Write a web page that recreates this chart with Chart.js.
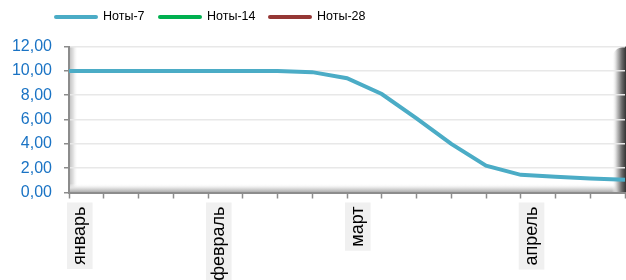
<!DOCTYPE html>
<html>
<head>
<meta charset="utf-8">
<script src="https://cdn.jsdelivr.net/npm/chart.js@4.4.0/dist/chart.umd.min.js"></script>
<style>
html,body{margin:0;padding:0;background:#fff;}
#wrap{width:626px;height:280px;position:relative;}
</style>
</head>
<body>
<div id="wrap"><canvas id="c" width="626" height="280"></canvas></div>
<script>
const categories = ['январь','','','','февраль','','','','март','','','','','апрель','','',''];
const seriesNames = ['Ноты-7','Ноты-14','Ноты-28'];
const seriesColors = ['#4bacc6','#00b050','#953735'];
const noty7 = [10,10,10,10,10,10,10,9.9,9.4,8.1,6.1,4.0,2.2,1.45,1.3,1.15,1.05];
const noty14 = [];
const noty28 = [];
const yTicks = [0,2,4,6,8,10,12];

const shading = {
  id:'shading',
  beforeDraw(chart){
    const {ctx, chartArea:a} = chart;
    ctx.save();
    // left wall
    let g = ctx.createLinearGradient(a.left,0,a.left+9,0);
    g.addColorStop(0,'#bdbdbd'); g.addColorStop(0.5,'#e4e4e4'); g.addColorStop(1,'rgba(255,255,255,0)');
    ctx.fillStyle = g; ctx.fillRect(a.left, a.top, 9, a.bottom-a.top);
    // floor
    g = ctx.createLinearGradient(0,a.bottom-9,0,a.bottom);
    g.addColorStop(0,'rgba(255,255,255,0)'); g.addColorStop(0.5,'#e2e2e2'); g.addColorStop(1,'#a8a8a8');
    ctx.fillStyle = g; ctx.fillRect(a.left, a.bottom-9, a.right-a.left, 9);
    // right edge
    g = ctx.createLinearGradient(a.right-13,0,a.right+1,0);
    g.addColorStop(0,'rgba(255,255,255,0)'); g.addColorStop(0.35,'#c8c8c8'); g.addColorStop(0.7,'#6a6a6a'); g.addColorStop(1,'#333');
    ctx.fillStyle = g;
    ctx.beginPath();
    ctx.moveTo(a.right-13, a.bottom);
    ctx.lineTo(a.right-13, a.top+10);
    ctx.quadraticCurveTo(a.right-10, a.top, a.right+1, a.top);
    ctx.lineTo(a.right+1, a.bottom);
    ctx.closePath(); ctx.fill();
    ctx.restore();
  }
};

const legendPlugin = {
  id:'customLegend',
  afterDraw(chart){
    const ctx = chart.ctx;
    const xs = [54,158,268];
    ctx.save();
    ctx.font = '12.5px "Liberation Sans", Arial, sans-serif';
    ctx.textBaseline = 'middle';
    seriesNames.forEach((n,i)=>{
      ctx.strokeStyle = seriesColors[i];
      ctx.lineWidth = 4; ctx.lineCap = 'round';
      ctx.beginPath(); ctx.moveTo(xs[i]+2,17); ctx.lineTo(xs[i]+42,17); ctx.stroke();
      ctx.fillStyle = '#000';
      ctx.fillText(n, xs[i]+49, 17);
    });
    ctx.restore();
  }
};

new Chart(document.getElementById('c'), {
  type:'line',
  data:{
    labels: categories,
    datasets:[
      {label:seriesNames[0], data:noty7, borderColor:seriesColors[0], borderWidth:4, pointRadius:0, tension:0, fill:false},
      {label:seriesNames[1], data:noty14, borderColor:seriesColors[1], borderWidth:4, pointRadius:0, tension:0},
      {label:seriesNames[2], data:noty28, borderColor:seriesColors[2], borderWidth:4, pointRadius:0, tension:0}
    ]
  },
  plugins:[shading, legendPlugin],
  options:{
    responsive:false,
    animation:false,
    layout:{padding:{top:46.6, right:1, left:0, bottom:0}},
    plugins:{legend:{display:false}, tooltip:{enabled:false}},
    scales:{
      x:{
        offset:false,
        afterFit(s){ s.height = 280-192.5; s.paddingLeft = 0; s.paddingRight = 0; },
        grid:{display:true, drawOnChartArea:false, drawTicks:true, tickLength:6, tickColor:'#8c8c8c', tickWidth:1.5},
        border:{display:true, color:'#8c8c8c', width:2},
        ticks:{
          autoSkip:false, minRotation:90, maxRotation:90, padding:8,
          color:'#000', font:{family:'"Liberation Sans", Arial, sans-serif', size:18},
          showLabelBackdrop:true,
          backdropColor:(c)=> (c.tick && c.tick.label) ? '#f0f0f0' : 'rgba(0,0,0,0)',
          backdropPadding:{top:2,bottom:2,left:4,right:4}
        }
      },
      y:{
        min:0, max:12,
        afterFit(s){ s.width = 69; s.paddingTop = 0; s.paddingBottom = 0; },
        afterBuildTicks(s){ s.ticks = yTicks.map(v=>({value:v})); },
        grid:{color:'#e8e8e8', lineWidth:1.5, tickLength:5, tickColor:'#8c8c8c', tickWidth:1.5},
        border:{display:true, color:'#8c8c8c', width:2},
        ticks:{
          padding:12, color:'#1a73c4',
          font:{family:'"Liberation Sans", Arial, sans-serif', size:16},
          callback:(v)=> Number(v).toFixed(2).replace('.',',')
        }
      }
    }
  }
});
</script>
</body>
</html>
